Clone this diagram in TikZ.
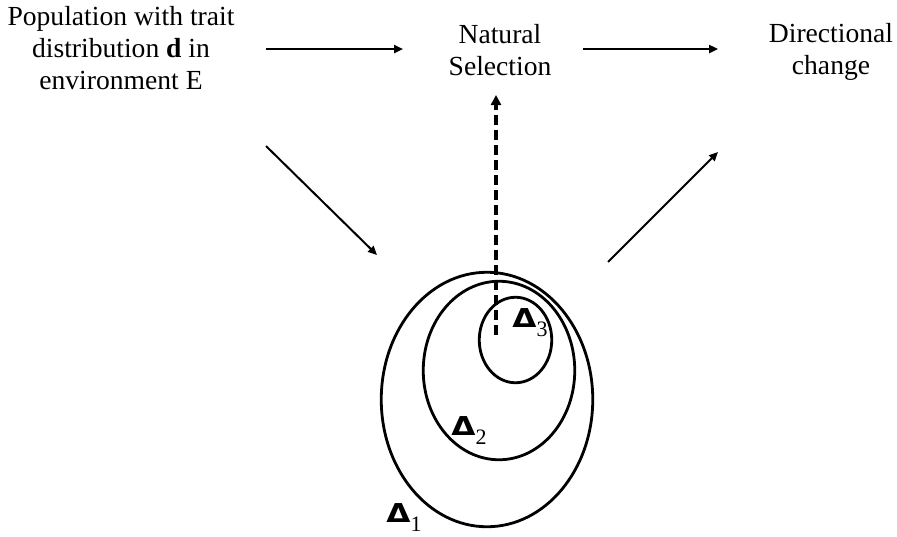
\documentclass[tikz,border=0pt]{standalone}
\usepackage{fontspec}
\setmainfont{Liberation Serif}
\newfontfamily\deltafont{DejaVu Sans}
\usetikzlibrary{positioning, arrows.meta, shapes.geometric}

% bold delta with a lowered index
\newcommand{\setdelta}[1]{%
  {\deltafont\bfseries\fontsize{13}{15}\selectfont\scalebox{1.2}[1]{Δ}}%
  \raisebox{-4.5pt}{\fontsize{11}{13}\selectfont #1}}

\begin{document}
\begin{tikzpicture}[
    x=0.5pt, y=-0.5pt,
    stage/.style={
      align=center, inner sep=0pt,
      font=\fontsize{13.8}{16}\selectfont
    },
    flow/.style={-{Triangle[length=4.5pt, width=4pt]}, line width=1.2pt},
    link/.style={-{Triangle[length=4.5pt, width=4pt]}, line width=1pt},
    probe/.style={
      -{Triangle[length=5pt, width=5pt]},
      line width=1.7pt, dash pattern=on 5pt off 2.5pt
    },
    region/.style={draw, ellipse, line width=1.4pt, inner sep=0pt},
    regionname/.style={inner sep=0pt, anchor=base west},
]
    \useasboundingbox (0,0) rectangle (897,536);

    % Stages
    \node[stage] (pop) at (121,48) {Population with trait\\distribution \textbf{d} in\\environment E};
    \node[stage] (sel) at (500,50) {Natural\\Selection};
    \node[stage] (chg) at (831,52) {Directional\\change};

    % Nested sets
    \node[region, minimum width=105.75pt, minimum height=127.25pt] (d1) at (487,399.5) {};
    \node[region, minimum width=75.75pt, minimum height=89.25pt] (d2) at (499,370.5) {};
    \node[region, minimum width=36.25pt, minimum height=42.75pt] (d3) at (515.5,340) {};

    \node[regionname] (n1) at (386,522) {\setdelta{1}};
    \node[regionname] (n2) at (451,435) {\setdelta{2}};
    \node[regionname] (n3) at (512,327) {\setdelta{3}};

    % Arrow ends
    \coordinate (popout) at (266,49);
    \coordinate (selin) at (403,49);
    \coordinate (selout) at (583,49);
    \coordinate (chgin) at (718,49);
    \coordinate (popdown) at (266,146);
    \coordinate (setin) at (377,255);
    \coordinate (setout) at (608,262);
    \coordinate (chgup) at (718,152);
    \coordinate (probefoot) at (496,335);
    \coordinate (probehead) at (496,95);

    % Arrows
    \draw[flow] (popout) -- (selin);
    \draw[flow] (selout) -- (chgin);
    \draw[link] (popdown) -- (setin);
    \draw[link] (setout) -- (chgup);
    \draw[probe] (probefoot) -- (probehead);
\end{tikzpicture}
\end{document}
